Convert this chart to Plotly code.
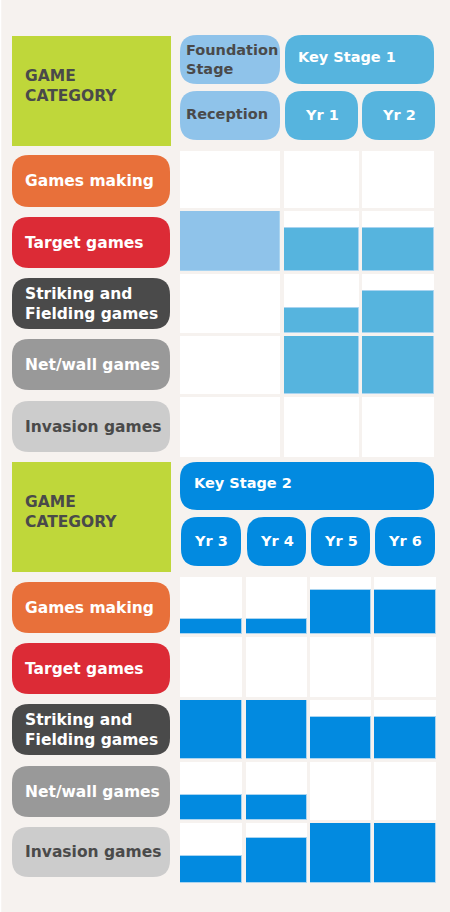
import plotly.graph_objects as go

# ──────────────────────────────────────────────────────────────────────────────
# Data: share of each game category taught per year (0 = none, 1 = full cell)
categories = ["Games making", "Target games", "Striking and<br>Fielding games",
              "Net/wall games", "Invasion games"]

top_years = ["Reception", "Yr 1", "Yr 2"]
reception = [0, 1.0, 0, 0, 0]
yr1 = [0, 0.72, 0.42, 1.0, 0]
yr2 = [0, 0.72, 0.71, 1.0, 0]

bottom_years = ["Yr 3", "Yr 4", "Yr 5", "Yr 6"]
yr3 = [0.26, 0, 1.0, 0.43, 0.45]
yr4 = [0.26, 0, 1.0, 0.43, 0.75]
yr5 = [0.77, 0, 0.71, 0, 1.0]
yr6 = [0.77, 0, 0.71, 0, 1.0]
# ──────────────────────────────────────────────────────────────────────────────

W, H = 450, 912
BG = "#f6f2ef"
GREEN = "#bfd73a"
DARK = "#4a4a4a"
LIGHT_BLUE = "#8fc3ea"
KS1_BLUE = "#56b4de"
KS2_BLUE = "#028ae0"
LABEL_COLORS = ["#e8703a", "#dc2b36", "#4a4a4a", "#999999", "#cccccc"]
LABEL_TEXT = ["white", "white", "white", "white", DARK]
FONT = "DejaVu Sans"


def px(x):
    return x / W


def py(y):
    return 1 - y / H


def pill(x0, y0, x1, y1, color, r=17):
    # rounded rectangle as an SVG path in paper coords
    r = min(r, (y1 - y0) / 2, (x1 - x0) / 2)
    pts = [
        f"M {px(x0 + r)},{py(y0)}",
        f"L {px(x1 - r)},{py(y0)}",
        f"Q {px(x1)},{py(y0)} {px(x1)},{py(y0 + r)}",
        f"L {px(x1)},{py(y1 - r)}",
        f"Q {px(x1)},{py(y1)} {px(x1 - r)},{py(y1)}",
        f"L {px(x0 + r)},{py(y1)}",
        f"Q {px(x0)},{py(y1)} {px(x0)},{py(y1 - r)}",
        f"L {px(x0)},{py(y0 + r)}",
        f"Q {px(x0)},{py(y0)} {px(x0 + r)},{py(y0)}",
        "Z",
    ]
    return dict(type="path", path=" ".join(pts), xref="paper", yref="paper",
                fillcolor=color, line=dict(width=0), layer="below")


def label(text, x, y, color, size=15.5, anchor="left"):
    return dict(text=text, x=px(x), y=py(y), xref="paper", yref="paper",
                xanchor=anchor, yanchor="middle", align="left", showarrow=False,
                font=dict(family=FONT, size=size, color=color, weight="bold"))


fig = go.Figure()
shapes = []
annotations = []

# grid geometry in pixels
grids = [
    dict(years=top_years, values=[reception, yr1, yr2],
         colors=[LIGHT_BLUE, KS1_BLUE, KS1_BLUE],
         cols=[(180, 280), (284, 359), (362, 434)],
         rows=[(151, 208), (211, 271), (274, 333), (336, 394), (397, 457)],
         labels=[(155, 207), (217, 268), (278, 329), (339, 390), (401, 452)],
         box=(36, 146)),
    dict(years=bottom_years, values=[yr3, yr4, yr5, yr6],
         colors=[KS2_BLUE] * 4,
         cols=[(180, 242), (246, 307), (310, 371), (374, 436)],
         rows=[(577, 634), (637, 697), (700, 759), (762, 820), (823, 883)],
         labels=[(582, 633), (643, 694), (704, 755), (766, 817), (827, 877)],
         box=(462, 572)),
]

axes = {}
xn, yn = 0, 0
for g in grids:
    x_ids = []
    for (c0, c1), yr in zip(g["cols"], g["years"]):
        xn += 1
        name = "xaxis" if xn == 1 else f"xaxis{xn}"
        axes[name] = dict(domain=[px(c0), px(c1)], type="category",
                          range=[-0.5, 0.5], visible=False, fixedrange=True)
        x_ids.append("x" if xn == 1 else f"x{xn}")
    y_ids = []
    for r0, r1 in g["rows"]:
        yn += 1
        name = "yaxis" if yn == 1 else f"yaxis{yn}"
        axes[name] = dict(domain=[py(r1), py(r0)], range=[0, 1],
                          visible=False, fixedrange=True)
        y_ids.append("y" if yn == 1 else f"y{yn}")

    for ci, (yr, vals, color) in enumerate(zip(g["years"], g["values"], g["colors"])):
        for ri, v in enumerate(vals):
            fig.add_trace(go.Bar(
                x=[yr], y=[v], width=[1],
                xaxis=x_ids[ci], yaxis=y_ids[ri],
                marker=dict(color=color,
                            line=dict(color="#a9d4f0", width=1 if v > 0 else 0)),
                showlegend=False, hoverinfo="skip",
            ))

    # left-hand category labels
    for (l0, l1), cat, lc, tc in zip(g["labels"], categories, LABEL_COLORS, LABEL_TEXT):
        shapes.append(pill(12, l0, 170, l1, lc))
        annotations.append(label(cat, 23, (l0 + l1) / 2, tc))

    # green header box
    b0, b1 = g["box"]
    shapes.append(dict(type="rect", xref="paper", yref="paper",
                       x0=px(12), x1=px(171), y0=py(b1), y1=py(b0),
                       fillcolor=GREEN, line=dict(width=0), layer="below"))
    annotations.append(label("GAME<br>CATEGORY", 23, (b0 + b1) / 2 - 5, DARK))

# top header pills
shapes += [
    pill(180, 35, 280, 84, LIGHT_BLUE),
    pill(285, 35, 434, 84, KS1_BLUE),
    pill(180, 91, 280, 140, LIGHT_BLUE),
    pill(285, 91, 358, 140, KS1_BLUE),
    pill(362, 91, 435, 140, KS1_BLUE),
]
annotations += [
    label("Foundation<br>Stage", 184, 59, DARK, size=14.5),
    label("Key Stage 1", 296, 57, "white", size=14.5),
    label("Reception", 184, 114, DARK, size=14.5),
    label(top_years[1], 321.5, 115, "white", size=14.5, anchor="center"),
    label(top_years[2], 398.5, 115, "white", size=14.5, anchor="center"),
]

# bottom header pills
shapes.append(pill(180, 462, 434, 510, KS2_BLUE))
annotations.append(label("Key Stage 2", 192, 483, "white", size=14.5))
for (x0, x1), yr in zip([(181, 241), (247, 306), (311, 370), (375, 435)], bottom_years):
    shapes.append(pill(x0, 517, x1, 566, KS2_BLUE))
    annotations.append(label(yr, (x0 + x1) / 2, 541, "white", size=14.5, anchor="center"))

# thin white edge on the left of the card
shapes.append(dict(type="line", xref="paper", yref="paper", x0=px(0.5), x1=px(0.5),
                   y0=0, y1=1, line=dict(color="white", width=1.5)))

fig.update_layout(
    width=W, height=H,
    margin=dict(l=0, r=0, t=0, b=0),
    paper_bgcolor=BG, plot_bgcolor="white",
    barmode="overlay", bargap=0,
    shapes=shapes, annotations=annotations,
    showlegend=False,
    **axes,
)

# drop the page's default body margin so the card sits flush in the window
fig.write_html("out.html", config={"displayModeBar": False},
               post_script="document.body.style.margin='0';document.body.style.overflow='hidden';")
